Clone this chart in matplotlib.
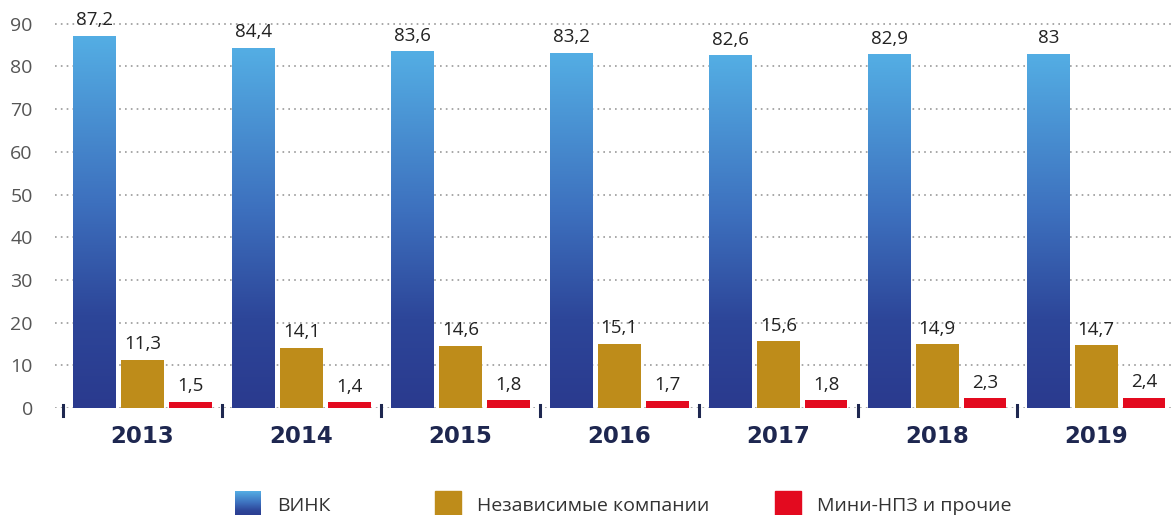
import numpy as np
import matplotlib
matplotlib.use("Agg")
import matplotlib.pyplot as plt
from matplotlib.colors import LinearSegmentedColormap
from matplotlib.patches import Rectangle

plt.rcParams['font.family'] = ['Open Sans', 'DejaVu Sans']

years = ['2013', '2014', '2015', '2016', '2017', '2018', '2019']
vink = [87.2, 84.4, 83.6, 83.2, 82.6, 82.9, 83]
independent = [11.3, 14.1, 14.6, 15.1, 15.6, 14.9, 14.7]
mini = [1.5, 1.4, 1.8, 1.7, 1.8, 2.3, 2.4]
labels_vink = ['87,2', '84,4', '83,6', '83,2', '82,6', '82,9', '83']
labels_ind = ['11,3', '14,1', '14,6', '15,1', '15,6', '14,9', '14,7']
labels_mini = ['1,5', '1,4', '1,8', '1,7', '1,8', '2,3', '2,4']
legend_names = ['ВИНК', 'Независимые компании', 'Мини-НПЗ и прочие']

gold = '#BE8C1A'
red = '#E30A1F'
blue_cmap = LinearSegmentedColormap.from_list(
    'vink', [(0, '#2A3A8E'), (0.25, '#2D4699'), (0.55, '#3D70BE'), (1, '#54AEE4')])

W, H = 1171, 515
fig = plt.figure(figsize=(W / 100, H / 100), dpi=100)
ax = fig.add_axes([55 / W, 1 - 408 / H, 1116 / W, (408 - 11) / H])

x = np.arange(len(years))
w = 0.27
off = 0.30

bars_v = ax.bar(x - off, vink, w, color='none', edgecolor='none', zorder=3)
bars_i = ax.bar(x, independent, w, color=gold, zorder=3)
bars_m = ax.bar(x + off, mini, w, color=red, zorder=3)

# vertical gradient inside the blue bars
grad = np.linspace(0, 1, 256).reshape(-1, 1)
for b in bars_v:
    x0, y0 = b.get_x(), b.get_y()
    bw, bh = b.get_width(), b.get_height()
    im = ax.imshow(grad, cmap=blue_cmap, origin='lower', aspect='auto',
                   extent=(x0, x0 + bw, y0, y0 + bh), zorder=3)
    im.set_clip_path(b)

for bars, labs in [(bars_v, labels_vink), (bars_i, labels_ind), (bars_m, labels_mini)]:
    for b, t in zip(bars, labs):
        ax.text(b.get_x() + b.get_width() / 2, b.get_height() + 1.5, t,
                ha='center', va='bottom', fontsize=13.5, color='#222222', zorder=4)

ax.set_xlim(-0.55, 6.47)
ax.set_ylim(0, 93)
ax.set_yticks(range(0, 91, 10))
ax.set_yticklabels([str(v) for v in range(0, 91, 10)], fontsize=14, color='#555555')
ax.tick_params(axis='y', length=0, pad=16)

ax.set_xticks(x)
ax.set_xticklabels(years, fontsize=16.5, fontweight='bold', color='#1E2750',
                   family='DejaVu Sans')
ax.tick_params(axis='x', length=0, pad=12)

# group separators under the axis
for s in np.arange(-0.5, 6.6, 1.0):
    ax.plot([s, s], [0.8, -1.8], color='#1E2750', lw=2.2, clip_on=False, zorder=4)

ax.grid(axis='y', linestyle=(0, (1, 2.5)), color='#9A9A9A', lw=1.2, zorder=0)
ax.set_axisbelow(True)
for sp in ax.spines.values():
    sp.set_visible(False)

# legend drawn by hand, entries are not evenly spaced in the original
sq = 26
sq_top = 491
leg_x = [235, 435, 775]
leg_colors = [None, gold, red]
for lx, c, name in zip(leg_x, leg_colors, legend_names):
    if c is None:
        lax = fig.add_axes([lx / W, 1 - (sq_top + sq) / H, sq / W, sq / H])
        lax.imshow(grad, cmap=blue_cmap, origin='lower', aspect='auto')
        lax.axis('off')
    else:
        fig.add_artist(Rectangle((lx / W, 1 - (sq_top + sq) / H), sq / W, sq / H,
                                 transform=fig.transFigure, color=c))
    fig.text((lx + 42) / W, 1 - 506 / H, name, fontsize=14, color='#333333',
             va='center', ha='left')

fig.savefig('out.png', dpi=100)
